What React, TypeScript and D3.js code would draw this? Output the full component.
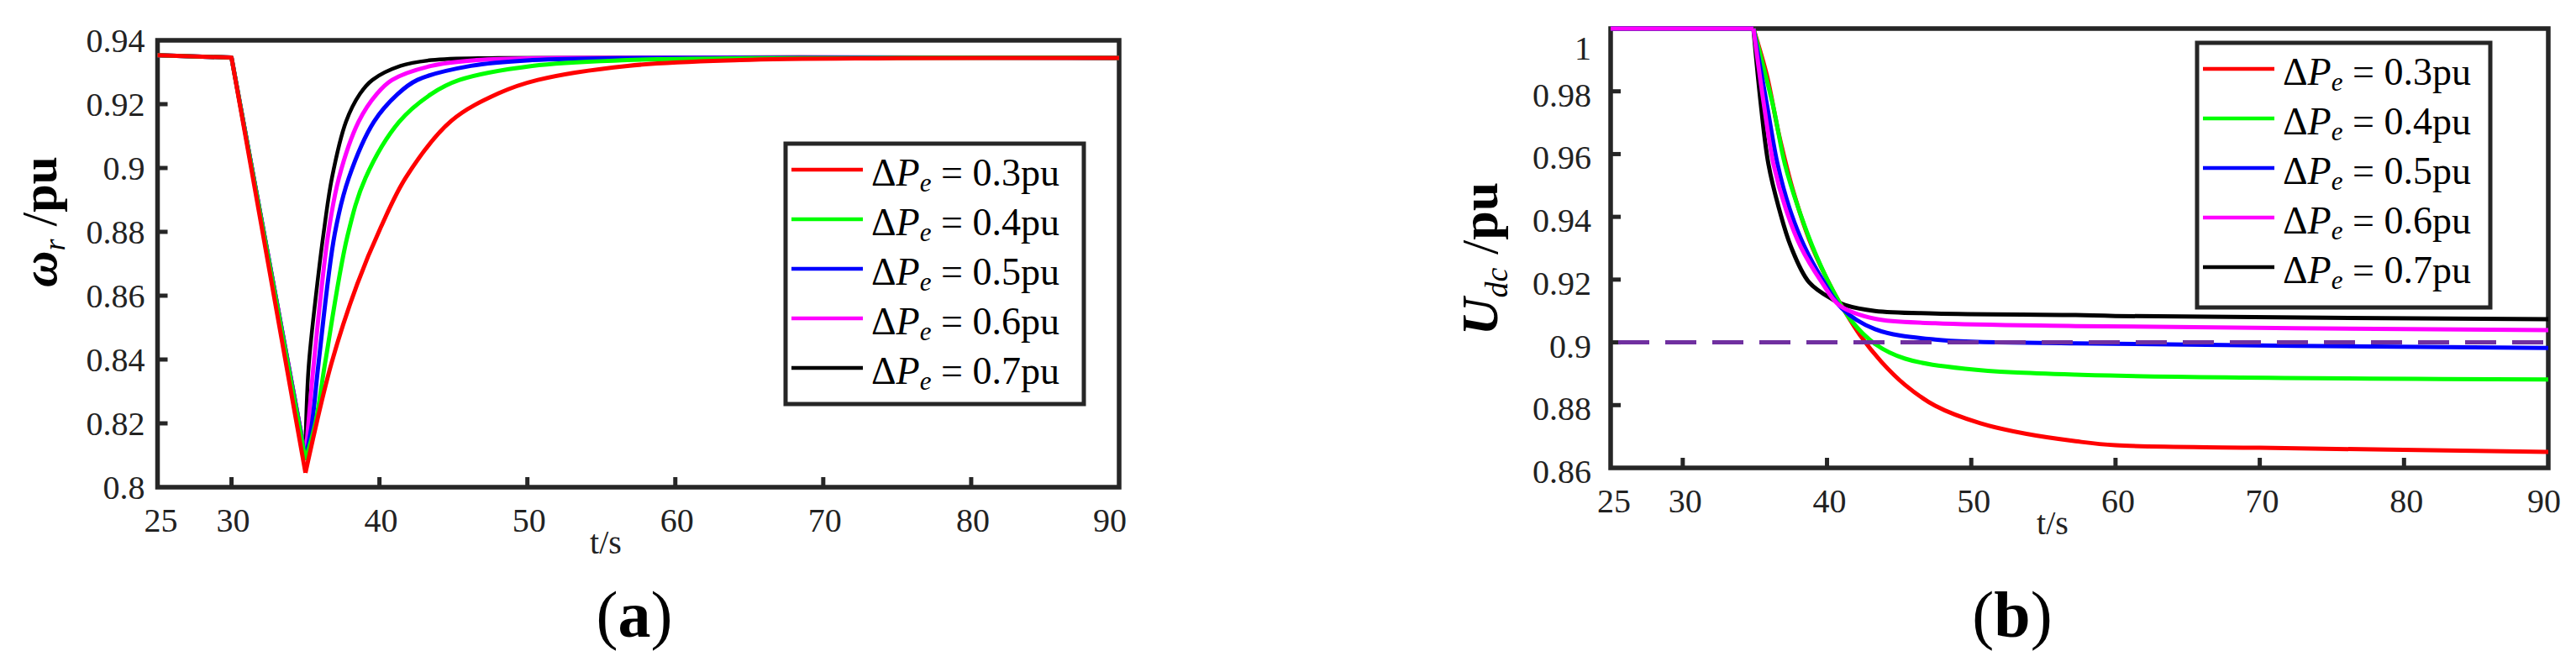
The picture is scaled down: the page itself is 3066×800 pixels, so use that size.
import React from 'react'
import * as d3 from 'd3'

const SERIF = '"Liberation Serif", "Times New Roman", serif'
const AXIS = '#262626'

// ticks
const T_TICKS = [25, 30, 40, 50, 60, 70, 80, 90]
const WR_TICKS = [0.8, 0.82, 0.84, 0.86, 0.88, 0.9, 0.92, 0.94]
const UDC_TICKS = [0.86, 0.88, 0.9, 0.92, 0.94, 0.96, 0.98, 1]

// legend
const DPE = ['0.3', '0.4', '0.5', '0.6', '0.7']
const COLORS = ['#ff0000', '#00ff00', '#0000ff', '#ff00ff', '#000000']

// (a) rotor speed, [t, value]; first 3 points are the straight V part
const wrRed = [[25, 0.9353], [30, 0.9346], [35, 0.8045], [36.75, 0.8387], [38.49, 0.8635], [40.1, 0.8815], [41.81, 0.8972], [44.84, 0.9147], [48.06, 0.9234], [50.71, 0.9276], [56.77, 0.932], [64.35, 0.9338], [75, 0.9344], [90, 0.9345]]
const wrGreen = [[25, 0.9353], [30, 0.9346], [35, 0.8085], [35.67, 0.82], [36.32, 0.8387], [37.83, 0.8785], [39.06, 0.8969], [41.34, 0.9145], [43.51, 0.9232], [45.41, 0.9276], [50.33, 0.932], [56.77, 0.9338], [65, 0.9344], [90, 0.9345]]
const wrBlue = [[25, 0.9353], [30, 0.9346], [35, 0.809], [35.44, 0.82], [35.88, 0.8387], [36.98, 0.8794], [37.93, 0.8969], [39.63, 0.9145], [41.24, 0.9232], [42.57, 0.9276], [46.19, 0.932], [50.33, 0.9338], [58, 0.9345], [90, 0.9345]]
const wrMagenta = [[25, 0.9353], [30, 0.9346], [35, 0.8095], [35.2, 0.82], [35.56, 0.8387], [36.54, 0.8794], [37.26, 0.8969], [38.59, 0.9145], [39.82, 0.9232], [40.86, 0.9276], [43.51, 0.932], [46.55, 0.9338], [52, 0.9345], [90, 0.9345]]
const wrBlack = [[25, 0.9353], [30, 0.9346], [35, 0.81], [35.04, 0.82], [35.23, 0.8387], [35.88, 0.8669], [36.22, 0.8794], [36.79, 0.8969], [37.74, 0.9145], [38.68, 0.9232], [39.53, 0.9276], [41.43, 0.932], [43.51, 0.9338], [48, 0.9345], [90, 0.9345]]

// (b) dc voltage; first 2 points are the flat part
const udcRed = [[25, 1], [34.9, 1], [35.84, 0.9849], [36.67, 0.9662], [37.71, 0.9474], [38.96, 0.9305], [40.42, 0.9164], [41.25, 0.9098], [42.29, 0.9023], [43.75, 0.8939], [45.42, 0.8864], [47.5, 0.8798], [50.63, 0.8742], [53.75, 0.8709], [57.24, 0.8685], [60, 0.8672], [70, 0.8664], [90, 0.8651]]
const udcGreen = [[25, 1], [34.9, 1], [36.25, 0.9756], [37.08, 0.9568], [38.02, 0.9427], [39.17, 0.9286], [40.42, 0.9164], [41.67, 0.907], [43.33, 0.8995], [45.42, 0.8948], [49.58, 0.8916], [57.24, 0.8897], [90, 0.8882]]
const udcBlue = [[25, 1], [34.9, 1], [35.84, 0.9756], [36.57, 0.9568], [37.4, 0.9427], [38.44, 0.9305], [39.79, 0.9192], [41.04, 0.9108], [43.33, 0.9042], [47.5, 0.9009], [57.24, 0.8997], [90, 0.8982]]
const udcMagenta = [[25, 1], [34.9, 1], [35.63, 0.9756], [36.29, 0.9568], [37.13, 0.9427], [38.17, 0.9305], [39.63, 0.9192], [40.88, 0.9117], [43.33, 0.9075], [47.5, 0.9061], [57.24, 0.9052], [90, 0.9039]]
const udcBlack = [[25, 1], [34.9, 1], [35.42, 0.9756], [35.94, 0.9568], [36.67, 0.9427], [37.5, 0.9305], [38.75, 0.9192], [40.42, 0.9136], [41.25, 0.9119], [43.33, 0.91], [47.5, 0.9092], [57.24, 0.9087], [60, 0.9084], [90, 0.9074]]

const UDC_REF = 0.9

function Curve({ pts, kink, x, y, color, width }) {
  const lin = d3.line().x(d => x(d[0])).y(d => y(d[1]))
  const smooth = d3.line().x(d => x(d[0])).y(d => y(d[1])).curve(d3.curveCatmullRom.alpha(0.5))
  return (
    <g fill="none" stroke={color} strokeWidth={width} strokeLinejoin="round">
      <path d={lin(pts.slice(0, kink + 1))} />
      <path d={smooth(pts.slice(kink))} />
    </g>
  )
}

function Legend({ left, top, w, h }) {
  return (
    <g>
      <rect x={left} y={top} width={w} height={h} fill="#fff" stroke={AXIS} strokeWidth={5} />
      {DPE.map((p, i) => {
        const ly = top + 31 + i * 59
        return (
          <g key={p}>
            <line x1={left + 7} x2={left + 92} y1={ly} y2={ly} stroke={COLORS[i]} strokeWidth={4.5} />
            <text x={left + 102} y={ly + 19} fontFamily={SERIF} fontSize={46} fill="#000">
              <tspan>Δ</tspan>
              <tspan fontStyle="italic">P</tspan>
              <tspan fontStyle="italic" fontSize={31} dy={7}>e</tspan>
              <tspan dy={-7}>{' = ' + p + 'pu'}</tspan>
            </text>
          </g>
        )
      })}
    </g>
  )
}

function Frame({ x, y, yTicks, yFmt, yLabelGap, yLabelDy, xLabelBase, xDx }) {
  const [x0, x1] = x.range()
  const [y0, y1] = y.range()
  return (
    <g>
      <rect x={x0} y={y1} width={x1 - x0} height={y0 - y1} fill="none" stroke={AXIS} strokeWidth={5.5} />
      {T_TICKS.slice(1, -1).map(t => (
        <line key={t} x1={x(t)} x2={x(t)} y1={y0} y2={y0 - 12} stroke={AXIS} strokeWidth={5} />
      ))}
      {yTicks.slice(1, -1).map(v => (
        <line key={v} x1={x0} x2={x0 + 12} y1={y(v)} y2={y(v)} stroke={AXIS} strokeWidth={5} />
      ))}
      <g fontFamily={SERIF} fontSize={40} fill="#222">
        {yTicks.map((v, i) => (
          <text key={v} x={x0 - yLabelGap} y={y(v) + yLabelDy(i)} textAnchor="end">{yFmt(v)}</text>
        ))}
        {T_TICKS.map((t, i) => (
          <text key={t} x={x(t) + xDx(i)} y={xLabelBase} textAnchor="middle">{t}</text>
        ))}
      </g>
    </g>
  )
}

const fmt = v => (v === 1 ? '1' : String(+v.toFixed(2)))

export default function App() {
  // panel (a)
  const xa = d3.scaleLinear().domain([25, 90]).range([187.5, 1332])
  const ya = d3.scaleLinear().domain([0.8, 0.94]).range([580, 48])
  // panel (b)
  const xb = d3.scaleLinear().domain([25, 90]).range([1917, 3033])
  const yb = d3.scaleLinear().domain([0.86, 1]).range([557, 34])

  const seriesA = [
    [wrBlack, 4], [wrMagenta, 3], [wrBlue, 2], [wrGreen, 1], [wrRed, 0]
  ]
  const seriesB = [
    [udcBlack, 4], [udcRed, 0], [udcGreen, 1], [udcBlue, 2], [udcMagenta, 3]
  ]

  return (
    <svg width={3066} height={800} style={{ position: 'absolute', left: 0, top: 0, background: '#fff' }}>
      <rect width={3066} height={800} fill="#fff" />

      {/* (a) */}
      <Frame x={xa} y={ya} yTicks={WR_TICKS} yFmt={fmt} yLabelGap={15} yLabelDy={() => 14}
        xLabelBase={633} xDx={i => (i === 0 ? 4 : i === 7 ? -11 : 2)} />
      {seriesA.map(([pts, ci]) => (
        <Curve key={ci} pts={pts} kink={2} x={xa} y={ya} color={COLORS[ci]} width={ci === 4 ? 4.5 : 5} />
      ))}
      <Legend left={935} top={171} w={355} h={310} />
      <text x={721} y={659} textAnchor="middle" fontFamily={SERIF} fontSize={40} fill="#222">t/s</text>
      <text transform="translate(67,264) rotate(-90)" textAnchor="middle" fontFamily={SERIF} fontSize={60} fill="#000">
        <tspan fontStyle="italic" fontWeight="bold">ω</tspan>
        <tspan fontStyle="italic" fontSize={36} dy={10}>r</tspan>
        <tspan dy={-10}>{' /'}</tspan>
        <tspan fontWeight="bold">pu</tspan>
      </text>
      <text x={755} y={758} textAnchor="middle" fontFamily={SERIF} fontSize={78} fill="#000">
        (<tspan fontWeight="bold">a</tspan>)
      </text>

      {/* (b) */}
      <Frame x={xb} y={yb} yTicks={UDC_TICKS} yFmt={fmt} yLabelGap={23} yLabelDy={i => (i === 7 ? 37 : 18)}
        xLabelBase={610} xDx={i => (i === 0 ? 4 : i === 7 ? -5 : 3)} />
      {seriesB.map(([pts, ci]) => (
        <Curve key={ci} pts={pts} kink={1} x={xb} y={yb} color={COLORS[ci]} width={5} />
      ))}
      <line x1={xb(25)} x2={xb(90)} y1={yb(UDC_REF)} y2={yb(UDC_REF)} stroke="#7030a0" strokeWidth={5}
        strokeDasharray="37 19" strokeDashoffset={47} />
      <Legend left={2615} top={51} w={349} h={315} />
      <text x={2443} y={636} textAnchor="middle" fontFamily={SERIF} fontSize={40} fill="#222">t/s</text>
      <text transform="translate(1782,308) rotate(-90)" textAnchor="middle" fontFamily={SERIF} fontSize={62} fill="#000">
        <tspan fontStyle="italic" fontWeight="bold">U</tspan>
        <tspan fontStyle="italic" fontSize={38} dy={12}>dc</tspan>
        <tspan dy={-12}>{' /'}</tspan>
        <tspan fontWeight="bold">pu</tspan>
      </text>
      <text x={2395} y={758} textAnchor="middle" fontFamily={SERIF} fontSize={78} fill="#000">
        (<tspan fontWeight="bold">b</tspan>)
      </text>
    </svg>
  )
}
